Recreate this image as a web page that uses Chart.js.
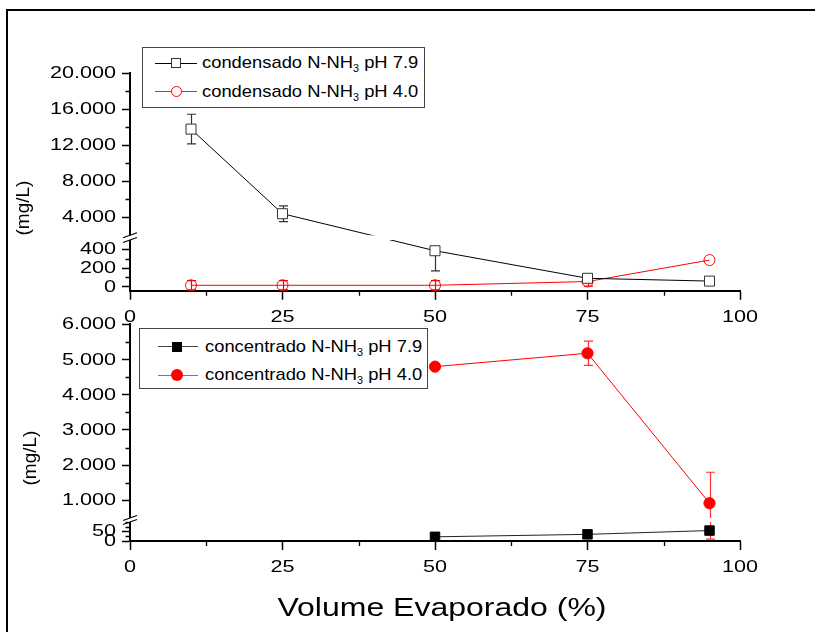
<!DOCTYPE html>
<html><head><meta charset="utf-8">
<script src="https://cdn.jsdelivr.net/npm/chart.js@4.4.1/dist/chart.umd.min.js"></script>
<style>
html,body{margin:0;padding:0;background:#fff;}
#page{position:relative;width:815px;height:632px;overflow:hidden;background:#fff;font-family:"Liberation Sans",Arial,sans-serif;color:#000;}
#page canvas{position:absolute;left:0;top:0;}
.abs{position:absolute;}
.frameT{left:6px;top:9px;width:809px;height:2px;background:#000;}
.frameL{left:6px;top:9px;width:2px;height:623px;background:#000;}
.ytitle{width:100px;height:24px;line-height:24px;text-align:center;font-size:19px;transform:rotate(-90deg);white-space:nowrap;}
.xtitle{width:500px;height:30px;line-height:30px;text-align:center;font-size:25px;transform:scaleX(1.28);white-space:nowrap;}
.legbox{border:1px solid #444;box-sizing:border-box;background:#fff;}
.lline{height:1px;}
.ltext{font-size:17px;white-space:nowrap;transform-origin:0 50%;transform:scaleX(1.08);line-height:20px;height:20px;}
.ltext sub{font-size:10px;vertical-align:-4px;line-height:0;}
.msq{box-sizing:border-box;}
.mci{box-sizing:border-box;border-radius:50%;}
</style>
</head><body>
<div id="page">
<canvas id="top" width="815" height="632"></canvas>
<canvas id="bottom" width="815" height="632"></canvas>

<div class="abs frameT"></div>
<div class="abs frameL"></div>

<div class="abs ytitle" style="left:-27.5px;top:196px;">(mg/L)</div>
<div class="abs ytitle" style="left:-20px;top:446px;">(mg/L)</div>
<div class="abs xtitle" style="left:192px;top:592px;">Volume Evaporado (%)</div>

<!-- top legend -->
<div class="abs legbox" style="left:142px;top:47px;width:283px;height:61px;"></div>
<div class="abs lline" style="left:155px;top:63px;width:42px;background:#000;"></div>
<div class="abs msq" style="left:171px;top:58px;width:10px;height:10px;border:1px solid #333;background:#fff;"></div>
<div class="abs ltext" style="left:202px;top:53.4px;">condensado N-NH<sub>3</sub> pH 7.9</div>
<div class="abs lline" style="left:155px;top:91px;width:42px;background:#ff2020;"></div>
<div class="abs mci" style="left:170.5px;top:86px;width:11px;height:11px;border:1px solid #ff0000;background:#fff;"></div>
<div class="abs ltext" style="left:202px;top:81.8px;">condensado N-NH<sub>3</sub> pH 4.0</div>

<!-- bottom legend -->
<div class="abs legbox" style="left:139px;top:328px;width:289px;height:61px;"></div>
<div class="abs lline" style="left:158px;top:346px;width:40px;background:#444;"></div>
<div class="abs msq" style="left:172px;top:342px;width:10px;height:10px;background:#000;"></div>
<div class="abs ltext" style="left:205px;top:336.8px;">concentrado N-NH<sub>3</sub> pH 7.9</div>
<div class="abs lline" style="left:158px;top:375px;width:40px;background:#ff4040;"></div>
<div class="abs mci" style="left:171px;top:369px;width:12px;height:12px;background:#ff0000;"></div>
<div class="abs ltext" style="left:205px;top:365.1px;">concentrado N-NH<sub>3</sub> pH 4.0</div>
</div>

<script>
// ---------- data ----------
const xTop = [10, 25, 50, 75, 95];
const topPH79 = [13800, 4400, 385, 90, 60];
const topPH79ErrUp = [1650, 870, 0, 35, 30];
const topPH79ErrDn = [1650, 870, 215, 35, 30];
const topPH40 = [15, 15, 15, 55, 285];
const topPH40ErrUp = [50, 50, 50, 50, 0];
const topPH40ErrDn = [50, 50, 50, 50, 0];

const xBottom = [50, 75, 95];
const botPH79 = [22, 35, 55];
const botPH40 = [4800, 5180, 920];
const botPH40ErrUp = [0, 345, 880];
const botPH40ErrDn = [0, 345, 910];

const xTicks = [0, 25, 50, 75, 100];
const xTickLabels = ['0', '25', '50', '75', '100'];
const xMinor = [12.5, 37.5, 62.5, 87.5];

const topYTicks = [0, 200, 400, 4000, 8000, 12000, 16000, 20000];
const topYTickLabels = ['0', '200', '400', '4.000', '8.000', '12.000', '16.000', '20.000'];
const topYMinor = [100, 300, 6000, 10000, 14000, 18000];

const botYTicks = [0, 50, 1000, 2000, 3000, 4000, 5000, 6000];
const botYTickLabels = ['0', '50', '1.000', '2.000', '3.000', '4.000', '5.000', '6.000'];
const botYMinor = [25, 75, 100, 1500, 2500, 3500, 4500, 5500];

// broken-axis mapping: [value, fraction of axis height from bottom]
const topBreakMap = [[-43, 0], [500, 0.2332], [2000, 0.2548], [20000, 1]];
const topGap = [500, 2000];
const botBreakMap = [[0, 0], [100, 0.0877], [500, 0.1062], [6000, 1]];
const botGap = [100, 500];

const AXES = {
  top: { map: topBreakMap, gap: topGap, ticks: topYTicks, labels: topYTickLabels, minor: topYMinor },
  bottom: { map: botBreakMap, gap: botGap, ticks: botYTicks, labels: botYTickLabels, minor: botYMinor }
};

function interp(map, v) {
  for (let i = 0; i < map.length - 1; i++) {
    const a = map[i], b = map[i + 1];
    if (v <= b[0] || i === map.length - 2) {
      return a[1] + (v - a[0]) / (b[0] - a[0]) * (b[1] - a[1]);
    }
  }
  return 0;
}
function inv(map, f) {
  for (let i = 0; i < map.length - 1; i++) {
    const a = map[i], b = map[i + 1];
    if (f <= b[1] || i === map.length - 2) {
      return a[0] + (f - a[1]) / (b[1] - a[1]) * (b[0] - a[0]);
    }
  }
  return 0;
}

class BrokenScale extends Chart.LinearScale {
  static id = 'broken';
  buildTicks() {
    const cfg = AXES[this.chart.canvas.id];
    this.start = this.min;
    this.end = this.max;
    return cfg.ticks.map(v => ({ value: v }));
  }
  getPixelForValue(value) {
    const cfg = AXES[this.chart.canvas.id];
    return this.getPixelForDecimal(interp(cfg.map, value));
  }
  getValueForPixel(pixel) {
    const cfg = AXES[this.chart.canvas.id];
    return inv(cfg.map, this.getDecimalForPixel(pixel));
  }
}
Chart.register(BrokenScale);

const FONT = '16px "Liberation Sans", Arial, sans-serif';
const SX = 1.35;

const decor = {
  id: 'decor',
  beforeDatasetsDraw(chart) {
    const ctx = chart.ctx, xs = chart.scales.x, ys = chart.scales.y;
    ctx.save();
    chart.data.datasets.forEach(ds => {
      if (!ds.errUp) return;
      ctx.strokeStyle = ds.errColor;
      ctx.lineWidth = 1.2;
      ds.data.forEach((p, i) => {
        const up = ds.errUp[i] || 0, dn = ds.errDn[i] || 0;
        if (!up && !dn) return;
        const x = Math.round(xs.getPixelForValue(p.x)) + 0.5;
        const yt = ys.getPixelForValue(p.y + up);
        const yb = ys.getPixelForValue(p.y - dn);
        ctx.beginPath();
        ctx.moveTo(x, yt); ctx.lineTo(x, yb);
        if (up) { ctx.moveTo(x - 4.5, yt); ctx.lineTo(x + 4.5, yt); }
        if (dn) { ctx.moveTo(x - 4.5, yb); ctx.lineTo(x + 4.5, yb); }
        ctx.stroke();
      });
    });
    ctx.restore();
  },
  afterDatasetsDraw(chart) {
    const cfg = AXES[chart.canvas.id];
    const ctx = chart.ctx, ys = chart.scales.y, a = chart.chartArea;
    const y1 = ys.getPixelForValue(cfg.gap[1]);
    const y2 = ys.getPixelForValue(cfg.gap[0]);
    ctx.save();
    ctx.fillStyle = '#fff';
    ctx.fillRect(a.left + 1.5, y1, a.right - a.left, y2 - y1);
    ctx.restore();
  },
  afterDraw(chart) {
    const cfg = AXES[chart.canvas.id];
    const ctx = chart.ctx, xs = chart.scales.x, ys = chart.scales.y, a = chart.chartArea;
    ctx.save();
    // minor ticks
    ctx.strokeStyle = '#000';
    ctx.lineWidth = 1.3;
    ctx.beginPath();
    cfg.minor.forEach(v => {
      const y = Math.round(ys.getPixelForValue(v)) + 0.5;
      ctx.moveTo(a.left - 4.5, y); ctx.lineTo(a.left, y);
    });
    xMinor.forEach(v => {
      const x = Math.round(xs.getPixelForValue(v)) + 0.5;
      ctx.moveTo(x, a.bottom); ctx.lineTo(x, a.bottom + 5);
    });
    ctx.stroke();
    // axis break marks
    const y1 = ys.getPixelForValue(cfg.gap[1]);
    const y2 = ys.getPixelForValue(cfg.gap[0]);
    ctx.fillStyle = '#fff';
    ctx.fillRect(a.left - 2, y1, 4, y2 - y1);
    ctx.beginPath();
    ctx.lineWidth = 1.2;
    [y1, y2].forEach(y => {
      ctx.moveTo(a.left - 7, y + 2.5); ctx.lineTo(a.left + 7, y - 2.5);
    });
    ctx.stroke();
    // tick labels (from the scales' ticks)
    ctx.fillStyle = '#000';
    ctx.font = FONT;
    ctx.textBaseline = 'middle';
    ys.ticks.forEach(t => {
      if (!t.label) return;
      const y = ys.getPixelForValue(t.value);
      ctx.save(); ctx.translate(a.left - 14, y + 0.5); ctx.scale(SX, 1);
      ctx.textAlign = 'right'; ctx.fillText(t.label, 0, 0); ctx.restore();
    });
    xs.ticks.forEach(t => {
      if (t.label === undefined || t.label === '') return;
      const x = xs.getPixelForValue(t.value);
      ctx.save(); ctx.translate(x, a.bottom + 27); ctx.scale(SX, 1);
      ctx.textAlign = 'center'; ctx.fillText(t.label, 0, 0); ctx.restore();
    });
    ctx.restore();
  }
};

function makeOptions(cfgId, areaTop, areaBottom, yMin, yMax) {
  const cfg = AXES[cfgId];
  return {
    responsive: false,
    animation: false,
    devicePixelRatio: 1,
    events: [],
    layout: { padding: { left: 0, right: 75, top: areaTop, bottom: 632 - areaBottom - 20 } },
    plugins: { legend: { display: false }, tooltip: { enabled: false } },
    scales: {
      x: {
        type: 'linear', min: 0, max: 100,
        afterBuildTicks: s => { s.ticks = xTicks.map(v => ({ value: v })); },
        afterFit: s => { s.height = 20; },
        ticks: { display: false, autoSkip: false, callback: v => xTickLabels[xTicks.indexOf(v)] },
        grid: { display: true, drawOnChartArea: false, drawTicks: true, tickLength: 9, tickWidth: 1.5, tickColor: '#000' },
        border: { display: true, color: '#000', width: 2 }
      },
      y: {
        type: 'broken', min: yMin, max: yMax,
        afterFit: s => { s.width = 130; },
        ticks: { display: false, autoSkip: false, callback: v => cfg.labels[cfg.ticks.indexOf(v)] },
        grid: { display: true, drawOnChartArea: false, drawTicks: true, tickLength: 8, tickWidth: 1.5, tickColor: '#000' },
        border: { display: true, color: '#000', width: 2 }
      }
    }
  };
}

new Chart(document.getElementById('top'), {
  type: 'line',
  data: {
    datasets: [
      {
        label: 'condensado N-NH3 pH 7.9',
        data: xTop.map((x, i) => ({ x, y: topPH79[i] })),
        errUp: topPH79ErrUp, errDn: topPH79ErrDn, errColor: '#333',
        borderColor: '#000', borderWidth: 1, tension: 0, fill: false,
        pointStyle: 'rect', pointRadius: 7.07, pointBorderWidth: 1,
        pointBorderColor: '#333', pointBackgroundColor: '#fff'
      },
      {
        label: 'condensado N-NH3 pH 4.0',
        data: xTop.map((x, i) => ({ x, y: topPH40[i] })),
        errUp: topPH40ErrUp, errDn: topPH40ErrDn, errColor: '#ff0000',
        borderColor: '#ff0000', borderWidth: 1, tension: 0, fill: false,
        pointStyle: 'circle', pointRadius: 5.5, pointBorderWidth: 1,
        pointBorderColor: '#ff0000', pointBackgroundColor: 'rgba(255,255,255,0)'
      }
    ]
  },
  options: makeOptions('top', 73.3, 290.7, -43, 20000),
  plugins: [decor]
});

new Chart(document.getElementById('bottom'), {
  type: 'line',
  data: {
    datasets: [
      {
        label: 'concentrado N-NH3 pH 7.9',
        data: xBottom.map((x, i) => ({ x, y: botPH79[i] })),
        borderColor: '#222', borderWidth: 1, tension: 0, fill: false,
        pointStyle: 'rect', pointRadius: 6.7, pointBorderWidth: 1,
        pointBorderColor: '#000', pointBackgroundColor: '#000'
      },
      {
        label: 'concentrado N-NH3 pH 4.0',
        data: xBottom.map((x, i) => ({ x, y: botPH40[i] })),
        errUp: botPH40ErrUp, errDn: botPH40ErrDn, errColor: '#ff3030',
        borderColor: '#ff0000', borderWidth: 1, tension: 0, fill: false,
        pointStyle: 'circle', pointRadius: 5.6, pointBorderWidth: 1,
        pointBorderColor: '#ff0000', pointBackgroundColor: '#ff0000'
      }
    ]
  },
  options: makeOptions('bottom', 324.4, 541, 0, 6000),
  plugins: [decor]
});
</script>
</body></html>
